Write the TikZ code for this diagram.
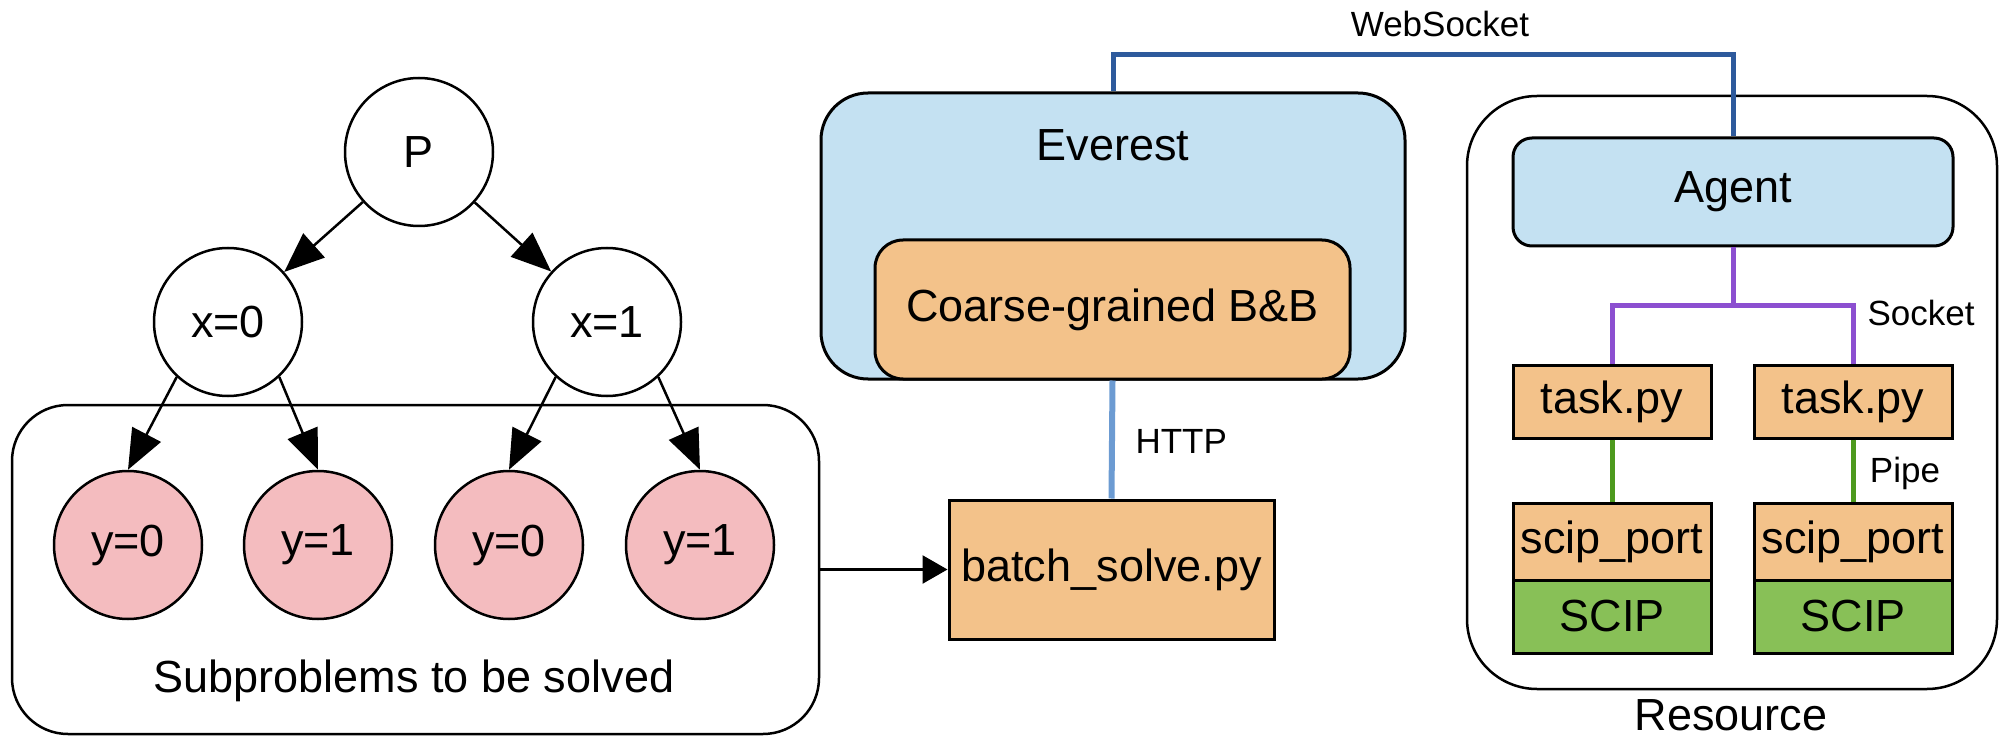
\documentclass[tikz,border=0pt]{standalone}
\usepackage{fontspec}
\setmainfont{Liberation Sans}
\usetikzlibrary{arrows.meta}
\definecolor{lblue}{HTML}{C4E1F2}
\definecolor{lorange}{HTML}{F3C28A}
\definecolor{lpink}{HTML}{F4BCBF}
\definecolor{lgreen}{HTML}{88C057}
\definecolor{wsblue}{HTML}{2E5A9C}
\definecolor{httpblue}{HTML}{6C9BD2}
\definecolor{purp}{HTML}{8C4FD0}
\definecolor{dgreen}{HTML}{4D9A1E}
\begin{document}
\begin{tikzpicture}[x=1pt,y=-1pt,
  big/.style={font=\fontsize{45}{54}\selectfont},
  small/.style={font=\fontsize{35}{42}\selectfont},
  tnode/.style={circle,draw,line width=2.5pt,minimum size=148pt,inner sep=0pt,big},
  leaf/.style={tnode,fill=lpink},
  box/.style={draw,line width=3pt,inner sep=0pt,big},
  orangebox/.style={box,fill=lorange},
  edgearrow/.style={line width=2.5pt,-{Triangle[length=40pt,width=32pt]}},
  wsline/.style={draw=wsblue,line width=5pt},
  httpline/.style={draw=httpblue,line width=6pt},
  sockline/.style={draw=purp,line width=5pt},
  pipeline/.style={draw=dgreen,line width=5pt}
]
\useasboundingbox (0,0) rectangle (2003,738);

% ---------- left: tree ----------
\node[draw,line width=2.5pt,rounded corners=56pt,minimum width=807pt,minimum height=329pt,inner sep=0pt] (sub) at (415.5,569.5) {};
\node[big] (sublabel) at (414,681) {Subproblems to be solved};

\node[tnode] (P) at (419,152) {P};
\node[tnode] (x0) at (228,322) {x=0};
\node[tnode] (x1) at (607,322) {x=1};
\node[leaf] (y00) at (128,545) {y=0};
\node[leaf] (y01) at (318,545) {y=1};
\node[leaf] (y10) at (509,545) {y=0};
\node[leaf] (y11) at (700,545) {y=1};

\draw[edgearrow] (P) -- (x0);
\draw[edgearrow] (P) -- (x1);
\draw[edgearrow] (x0.-133) -- (y00.north);
\draw[edgearrow] (x0.-47) -- (y01.north);
\draw[edgearrow] (x1.-133) -- (y10.north);
\draw[edgearrow] (x1.-47) -- (y11.north);

% ---------- middle: Everest ----------
\node[box,fill=lblue,rounded corners=47pt,minimum width=584pt,minimum height=286pt] (ev) at (1113,236) {};
\node[big] (evlabel) at (1113,145) {Everest};
\node[orangebox,rounded corners=28pt,minimum width=475pt,minimum height=139pt] (bb) at (1112.5,309.5) {Coarse-grained B\&B};
\node[orangebox,minimum width=325pt,minimum height=139pt] (batch) at (1111.5,569.5) {batch\_solve.py};

\draw[httpline] (bb.south) -- (batch.north);
\node[small,anchor=west] (http) at (1132,441) {HTTP};
\draw[line width=2.5pt,-{Triangle[length=25pt,width=28pt]}] (sub.east) -- (batch.west);

% ---------- right: Resource ----------
\node[draw,line width=2.5pt,rounded corners=70pt,minimum width=530pt,minimum height=593pt,inner sep=0pt] (res) at (1732,392.5) {};
\node[big] (reslabel) at (1731,715) {Resource};
\node[box,fill=lblue,rounded corners=19pt,minimum width=440pt,minimum height=108pt] (agent) at (1733,192) {Agent};

\node[orangebox,minimum width=198pt,minimum height=73pt] (t1) at (1612,401.5) {task.py};
\node[orangebox,minimum width=198pt,minimum height=73pt] (t2) at (1853,401.5) {task.py};
\node[orangebox,minimum width=198pt,minimum height=77pt] (sp1) at (1612,541.5) {scip\_port};
\node[orangebox,minimum width=198pt,minimum height=77pt] (sp2) at (1853,541.5) {scip\_port};
\node[box,fill=lgreen,minimum width=198pt,minimum height=73pt] (sc1) at (1612,616.5) {SCIP};
\node[box,fill=lgreen,minimum width=198pt,minimum height=73pt] (sc2) at (1853,616.5) {SCIP};

% connectors
\draw[wsline] (ev.north) -- ++(0,-37) -| (agent.north);
\node[small] (wslabel) at (1440,24) {WebSocket};

\coordinate (sock) at (1733,305);
\draw[sockline] (agent.south) -- (sock);
\draw[sockline] (t1.north) |- (sock) -| (t2.north);
\node[small] (socklabel) at (1921,313) {Socket};

\draw[pipeline] (t1.south) -- (sp1.north);
\draw[pipeline] (t2.south) -- (sp2.north);
\node[small] (pipelabel) at (1905,473) {Pipe};
\end{tikzpicture}
\end{document}
